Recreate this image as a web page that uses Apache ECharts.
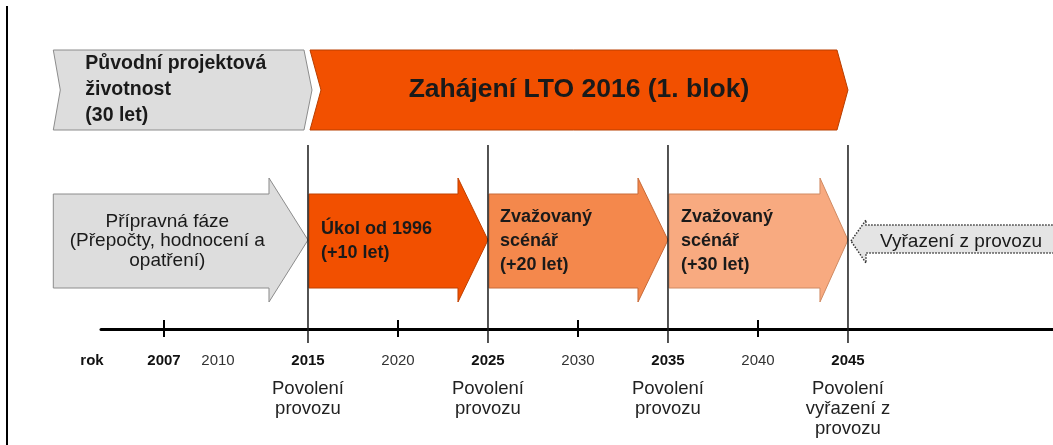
<!DOCTYPE html>
<html><head><meta charset="utf-8">
<script src="https://cdn.jsdelivr.net/npm/echarts@6/dist/echarts.min.js"></script>
<style>html,body{margin:0;padding:0;background:#fff}#c{width:1053px;height:445px}</style>
</head><body><div id="c"></div>
<script>
// ---------- DATA ----------
const axisStart = 2003.5;
const axisEnd = 2056.39;
const labelYears = [2007, 2010, 2015, 2020, 2025, 2030, 2035, 2040, 2045];
const boldYears = [2007, 2015, 2025, 2035, 2045];
const permitYears = [2015, 2025, 2035, 2045];
const permitLabels = ['Povolení\nprovozu', 'Povolení\nprovozu', 'Povolení\nprovozu', 'Povolení\nvyřazení z\nprovozu'];
const minorTickYears = [2007, 2020, 2030, 2040];
const bannerLabels = ['Původní projektová\nživotnost\n(30 let)', 'Zahájení LTO 2016 (1. blok)'];
const bannerStart = [2000.85, 2015];
const bannerEnd = [2015, 2045];
const phaseLabels = ['Přípravná fáze\n(Přepočty, hodnocení a\nopatření)', 'Úkol od 1996\n(+10 let)', 'Zvažovaný\nscénář\n(+20 let)', 'Zvažovaný\nscénář\n(+30 let)'];
const phaseStart = [2000.85, 2015, 2025, 2035];
const phaseEnd = [2015, 2025, 2035, 2045];
const decomLabel = 'Vyřazení z provozu';
const decomStart = 2045;
const decomEnd = 2060;
const axisTitle = 'rok';

// ---------- STYLE / LAYOUT ----------
const FONT = '"Liberation Sans", Arial, sans-serif';
const TXT = '#1a1a1a';
const L = {
  bannerTop: 50, bannerBottom: 130,
  bodyTop: 194, bodyBottom: 288, headTop: 178, headBottom: 302, arrowMid: 240,
  decBodyTop: 225, decBodyBottom: 253, decHeadTop: 220, decHeadBottom: 263, decMid: 241,
  vlineTop: 145, vlineBottom: 343, tickTop: 320, tickBottom: 337
};
const BANNER_STYLE = [
  {fill: '#dddddd', stroke: '#8c8c8c', inset: 0, tipOut: 4, depth: 8, notch: 7,
   text: {align: 'left', dx: 32, size: 19.5, weight: 'bold', lh: 26}},
  {fill: '#f25000', stroke: '#b83e00', inset: 2, tipOut: 0, depth: 11, notch: 11,
   text: {align: 'center', size: 26.5, weight: 'bold', lh: 30}}
];
const PHASE_STYLE = [
  {fill: '#dddddd', stroke: '#8c8c8c', inset: 0, head: 39, text: {align: 'center', dx: 114, size: 19, weight: 'normal', lh: 19.5}},
  {fill: '#f25000', stroke: '#c04000', inset: 1, head: 30, text: {align: 'left', dx: 12, size: 18, weight: 'bold', lh: 24}},
  {fill: '#f4884c', stroke: '#c86a38', inset: 1, head: 30, text: {align: 'left', dx: 11, size: 18, weight: 'bold', lh: 24}},
  {fill: '#f8aa80', stroke: '#d08a62', inset: 1, head: 28, text: {align: 'left', dx: 12, size: 18, weight: 'bold', lh: 24}}
];

const chart = echarts.init(document.getElementById('c'), null, {renderer: 'canvas'});

function xc(api, v) { return api.coord([v, 0])[0]; }

const option = {
  animation: false,
  backgroundColor: '#fff',
  grid: {left: 101, right: 0, top: 0, bottom: 116},
  xAxis: {
    type: 'value', min: axisStart, max: axisEnd, position: 'bottom',
    axisLine: {show: true, lineStyle: {color: '#000', width: 3}},
    axisTick: {show: false},
    splitLine: {show: false},
    axisLabel: {
      customValues: labelYears,
      margin: 14,
      formatter: function (v) {
        const i = permitYears.indexOf(v);
        let s = boldYears.indexOf(v) >= 0 ? '{b|' + v + '}' : '{n|' + v + '}';
        if (i >= 0) s += '\n' + permitLabels[i].split('\n').map(t => '{p|' + t + '}').join('\n');
        return s;
      },
      rich: {
        b: {fontFamily: FONT, fontSize: 15, fontWeight: 'bold', color: '#111', lineHeight: 36, align: 'center'},
        n: {fontFamily: FONT, fontSize: 15, color: '#333', lineHeight: 36, align: 'center'},
        p: {fontFamily: FONT, fontSize: 18.5, color: '#222', lineHeight: 20, align: 'center'}
      }
    }
  },
  yAxis: {type: 'value', min: 0, max: 1, show: false},
  graphic: [
    {type: 'line', shape: {x1: 7, y1: 6, x2: 7, y2: 445}, style: {stroke: '#000', lineWidth: 2}},
    {type: 'text', x: 92, y: 361, style: {text: axisTitle, fill: '#111', font: 'bold 15px ' + FONT, align: 'center', verticalAlign: 'middle'}}
  ],
  series: [
    { // top banners (chevrons)
      type: 'custom', clip: false, z: 2,
      data: bannerStart.map((s, i) => [s, bannerEnd[i], i]),
      renderItem: function (params, api) {
        const i = api.value(2), st = BANNER_STYLE[i];
        const x0 = xc(api, api.value(0)) + st.inset, x1 = xc(api, api.value(1)) + st.tipOut;
        const t = L.bannerTop, b = L.bannerBottom, m = (t + b) / 2;
        const pts = [[x0, t], [x1 - st.depth, t], [x1, m], [x1 - st.depth, b], [x0, b], [x0 + st.notch, m]];
        const tx = st.text.align === 'left' ? x0 + st.text.dx : (x0 + x1) / 2;
        return {type: 'group', children: [
          {type: 'polygon', shape: {points: pts}, style: {fill: st.fill, stroke: st.stroke, lineWidth: 1}},
          {type: 'text', style: {text: bannerLabels[i], x: tx, y: m, fill: TXT, fontFamily: 'Liberation Sans, Arial, sans-serif',
            fontSize: st.text.size, fontWeight: st.text.weight, lineHeight: st.text.lh, align: st.text.align, verticalAlign: 'middle'}}
        ]};
      }
    },
    { // phase block arrows
      type: 'custom', clip: false, z: 2,
      data: phaseStart.map((s, i) => [s, phaseEnd[i], i]),
      renderItem: function (params, api) {
        const i = api.value(2), st = PHASE_STYLE[i];
        const x0 = xc(api, api.value(0)) + st.inset, x1 = xc(api, api.value(1));
        const hx = x1 - st.head;
        const pts = [[x0, L.bodyTop], [hx, L.bodyTop], [hx, L.headTop], [x1, L.arrowMid], [hx, L.headBottom], [hx, L.bodyBottom], [x0, L.bodyBottom]];
        return {type: 'group', children: [
          {type: 'polygon', shape: {points: pts}, style: {fill: st.fill, stroke: st.stroke, lineWidth: 1}},
          {type: 'text', style: {text: phaseLabels[i], x: x0 + st.text.dx, y: L.arrowMid + 1, fill: TXT, fontFamily: 'Liberation Sans, Arial, sans-serif',
            fontSize: st.text.size, fontWeight: st.text.weight, lineHeight: st.text.lh, align: st.text.align, verticalAlign: 'middle'}}
        ]};
      }
    },
    { // decommissioning arrow (pointing left, dotted)
      type: 'custom', clip: false, z: 2,
      data: [[decomStart, decomEnd]],
      renderItem: function (params, api) {
        const x0 = xc(api, api.value(0)) + 3, x1 = xc(api, api.value(1));
        const hx = x0 + 15;
        const pts = [[x0, L.decMid], [hx, L.decHeadTop], [hx, L.decBodyTop], [x1, L.decBodyTop], [x1, L.decBodyBottom], [hx, L.decBodyBottom], [hx, L.decHeadBottom]];
        return {type: 'group', children: [
          {type: 'polygon', shape: {points: pts}, style: {fill: '#e4e4e4', stroke: '#333', lineWidth: 1.5, lineDash: [1.5, 1.5]}},
          {type: 'text', style: {text: decomLabel, x: x0 + 110, y: L.decMid + 1, fill: TXT, fontFamily: 'Liberation Sans, Arial, sans-serif',
            fontSize: 19, lineHeight: 22, align: 'center', verticalAlign: 'middle'}}
        ]};
      }
    },
    { // permit vertical lines
      type: 'custom', clip: false, z: 4,
      data: permitYears.map(v => [v]),
      renderItem: function (params, api) {
        const x = xc(api, api.value(0));
        return {type: 'line', shape: {x1: x, y1: L.vlineTop, x2: x, y2: L.vlineBottom}, style: {stroke: '#1a1a1a', lineWidth: 1.5}};
      }
    },
    { // minor ticks
      type: 'custom', clip: false, z: 4,
      data: minorTickYears.map(v => [v]),
      renderItem: function (params, api) {
        const x = xc(api, api.value(0));
        return {type: 'line', shape: {x1: x, y1: L.tickTop, x2: x, y2: L.tickBottom}, style: {stroke: '#000', lineWidth: 2}};
      }
    }
  ]
};
chart.setOption(option);
</script>
</body></html>
